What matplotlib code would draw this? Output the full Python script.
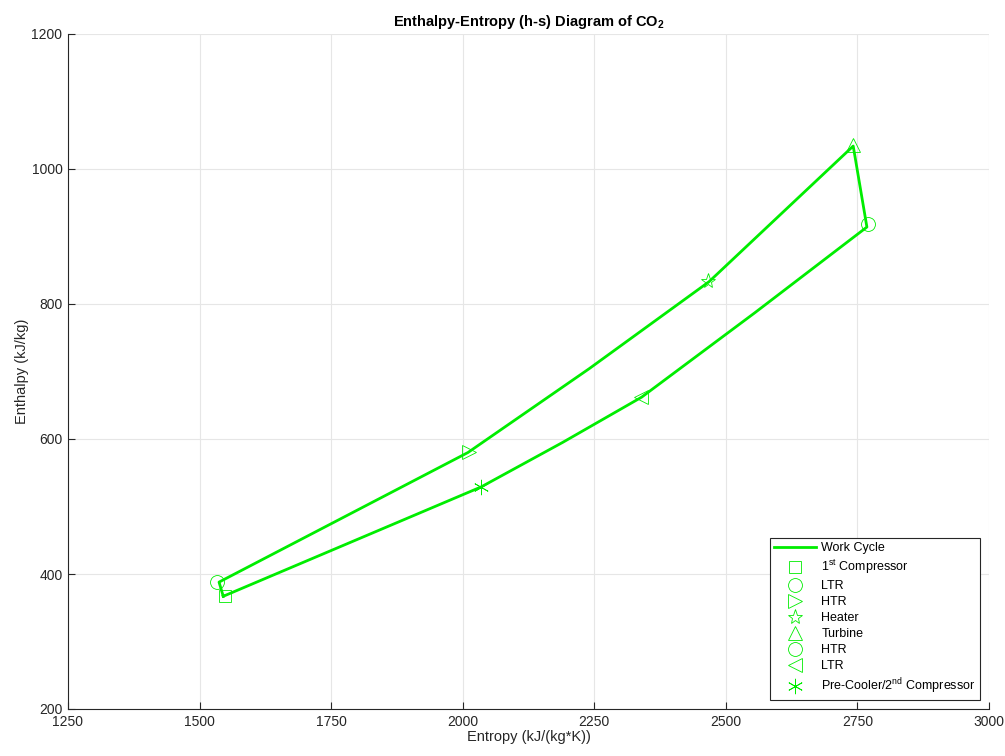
import matplotlib
matplotlib.use("Agg")
import matplotlib.pyplot as plt

plt.rcParams['font.family'] = ['Liberation Sans', 'DejaVu Sans']
plt.rcParams['mathtext.fontset'] = 'custom'
plt.rcParams['mathtext.rm'] = 'Liberation Sans'
plt.rcParams['mathtext.it'] = 'Liberation Sans'
plt.rcParams['mathtext.bf'] = 'Liberation Sans:bold'

# Work cycle path (entropy, enthalpy)
cycle_s = [1545, 1537, 2010, 2240, 2468, 2742, 2768, 2555, 2340, 2190, 2035, 1545]
cycle_h = [367, 388, 580, 704, 833, 1034, 914, 787, 662, 595, 529, 367]

# State points
state_labels = ['1$^{st}$ Compressor', 'LTR', 'HTR', 'Heater', 'Turbine', 'HTR', 'LTR',
                'Pre-Cooler/2$^{nd}$ Compressor']
state_s = [1548, 1533, 2012, 2466, 2741, 2770, 2339, 2035]
state_h = [367, 388, 581, 834, 1036, 919, 662, 529]
state_markers = ['s', 'o', '>', '*', '^', 'o', '<', (6, 2, 0)]

xticks = [1250, 1500, 1750, 2000, 2250, 2500, 2750, 3000]
yticks = [200, 400, 600, 800, 1000, 1200]

green = (0.0, 0.93, 0.0)
axc = (0.15, 0.15, 0.15)

fig = plt.figure(figsize=(10.05, 7.56), dpi=100)
ax = fig.add_axes([68/1005, 1 - 709/756, (989-68)/1005, (709-34)/756])

handles = []
l, = ax.plot(cycle_s, cycle_h, color=green, lw=2.0, label='Work Cycle', zorder=3)
handles.append(l)
sizes = {'s': 8, 'o': 10, '>': 10, '*': 11, '^': 10, '<': 10}
for s, h, m, lab in zip(state_s, state_h, state_markers, state_labels):
    ms = sizes.get(m, 11) if isinstance(m, str) else 11
    p, = ax.plot([s], [h], linestyle='none', marker=m, markersize=ms,
                 markerfacecolor='none', markeredgecolor=green, markeredgewidth=0.6,
                 label=lab, zorder=4)
    handles.append(p)

ax.set_xlim(1250, 3000)
ax.set_ylim(200, 1200)
ax.set_xticks(xticks)
ax.set_yticks(yticks)
ax.grid(True, color=(0.9, 0.9, 0.9), lw=0.8)
ax.set_axisbelow(True)
ax.spines['top'].set_visible(False)
ax.spines['right'].set_visible(False)
for sp in ('left', 'bottom'):
    ax.spines[sp].set_color(axc)
    ax.spines[sp].set_linewidth(0.8)
ax.tick_params(direction='in', length=5, width=0.8, color=axc, labelcolor=axc,
               labelsize=10, top=False, right=False, pad=4)

ax.set_xlabel('Entropy (kJ/(kg*K))', fontsize=10.5, color=axc, labelpad=1)
ax.set_ylabel('Enthalpy (kJ/kg)', fontsize=10.5, color=axc, labelpad=2)
ax.set_title('Enthalpy-Entropy (h-s) Diagram of CO$_{\\mathbf{2}}$', fontsize=10.5,
             fontweight='bold', color='black', pad=6)

leg = ax.legend(handles=handles, loc='lower right', fontsize=9, frameon=True,
                fancybox=False, edgecolor=axc, framealpha=1, handlelength=3.4,
                labelspacing=0.32, borderaxespad=0.7, handletextpad=0.4,
                borderpad=0.35)
leg.get_frame().set_linewidth(0.8)
for t in leg.get_texts():
    t.set_color('black')

fig.savefig('out.png', dpi=100)
